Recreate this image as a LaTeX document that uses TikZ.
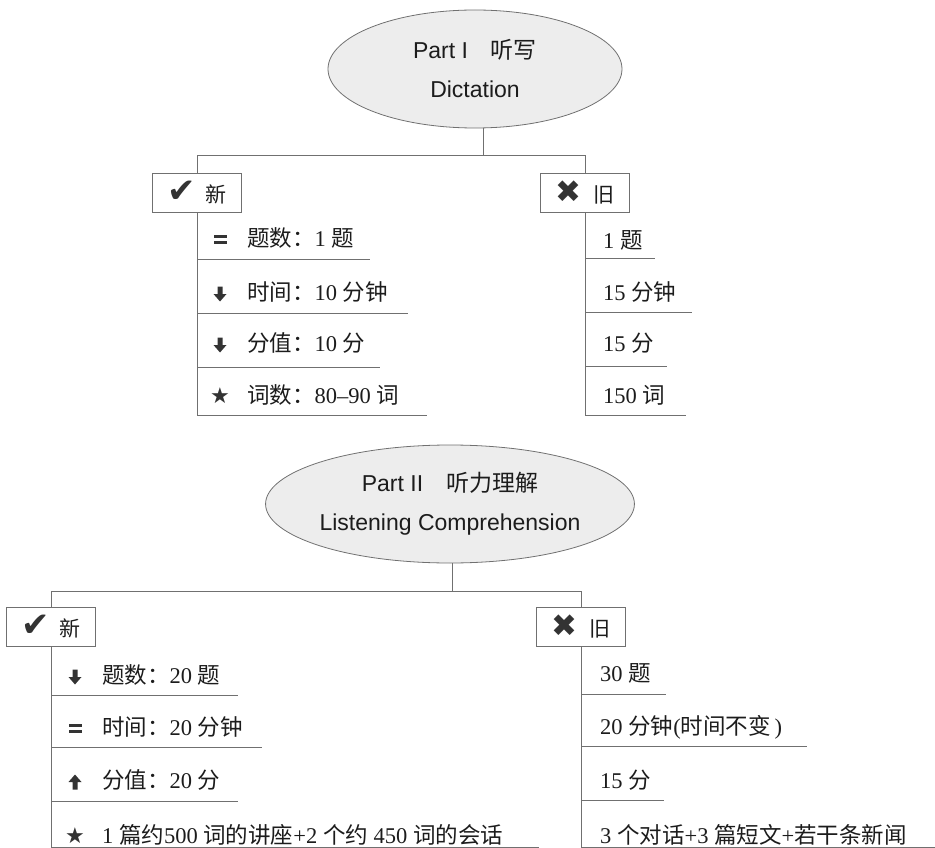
\documentclass[tikz,border=0pt]{standalone}
\usepackage{fontspec}
\setmainfont{Liberation Serif}
\newfontfamily\zhfont{Noto Sans CJK SC}
\newfontfamily\hsans{Liberation Sans}
\newfontfamily\symfont{DejaVu Sans}
\usetikzlibrary{shapes.geometric}
\newcommand{\zh}[1]{{\zhfont #1}}
\newcommand{\itf}{\fontsize{22.5}{27}\selectfont}
\definecolor{lnc}{HTML}{707070}
\definecolor{ellf}{HTML}{EDEDED}
\definecolor{txc}{HTML}{1C1C1C}
\definecolor{icc}{HTML}{333333}
\tikzset{
  ln/.style={draw=lnc, line width=0.8pt},
  ell/.style={ellipse, draw=lnc, fill=ellf, line width=0.8pt, inner sep=0pt, align=center, text=txc, font=\hsans\fontsize{23}{39}\selectfont},
  hbox/.style={rectangle, draw=lnc, fill=white, line width=0.8pt, minimum width=89pt, minimum height=39pt, inner sep=0pt, text=txc},
  itm/.style={anchor=west, inner sep=0pt, font=\itf, text=txc},
  ico/.style={inner sep=0pt, text=icc},
  starico/.style={ico, font=\symfont\fontsize{22}{22}\selectfont},
  darrow/.pic={\fill[icc] (-2.5,-7.5) -- (2.5,-7.5) -- (2.5,0) -- (6.5,0) -- (0,7.5) -- (-6.5,0) -- (-2.5,0) -- cycle;},
  uarrow/.pic={\fill[icc] (-2.5,7.5) -- (2.5,7.5) -- (2.5,0) -- (6.5,0) -- (0,-7.5) -- (-6.5,0) -- (-2.5,0) -- cycle;},
  eqsign/.pic={\fill[icc] (-6.5,-4) rectangle (6.5,-1); \fill[icc] (-6.5,1.5) rectangle (6.5,4.5);}
}
\newcommand{\chk}{{\symfont\fontsize{34}{34}\selectfont\color{icc}✔}}
\newcommand{\crs}{{\symfont\fontsize{31}{31}\selectfont\color{icc}✖}}
\newcommand{\bxt}[1]{{\zhfont\fontsize{21}{21}\selectfont #1}}
\begin{document}
\begin{tikzpicture}[x=1pt,y=-1pt]
\useasboundingbox (0,0) rectangle (935,848);

% ---------------- Part I ----------------
\node[ell, minimum width=294pt, minimum height=118pt] (p1) at (475,69) {Part I\quad\zh{听写}\\Dictation};
\coordinate (j1) at (483,155);
\node[hbox] (n1) at (197,192.5) {\chk\hspace{10pt}\bxt{新}};
\node[hbox] (o1) at (585,192.5) {\crs\hspace{13pt}\bxt{旧}};
\draw[ln] (j1 |- p1.south) -- (j1);
\draw[ln] (n1.north) -- (n1.north |- j1) -- (o1.north |- j1) -- (o1.north);
\coordinate (e1) at (197,415);
\coordinate (f1) at (585,415);
\draw[ln] (n1.south) -- (e1);
\draw[ln] (o1.south) -- (f1);

% left items
\pic at (220,239) {eqsign};
\node[itm] (a1) at (247,238) {\zh{题数：}1 \zh{题}};
\pic at (220,294) {darrow};
\node[itm] (a2) at (247,292) {\zh{时间：}10 \zh{分钟}};
\pic at (220,345) {darrow};
\node[itm] (a3) at (247,343) {\zh{分值：}10 \zh{分}};
\node[starico] (a4i) at (220,396) {★};
\node[itm] (a4) at (247,395) {\zh{词数：}80–90 \zh{词}};
\draw[ln] (197,259) -- (370,259);
\draw[ln] (197,313) -- (408,313);
\draw[ln] (197,367) -- (380,367);
\draw[ln] (e1) -- (427,415);

% right items
\node[itm] (b1) at (603,240) {1 \zh{题}};
\node[itm] (b2) at (603,292) {15 \zh{分钟}};
\node[itm] (b3) at (603,343) {15 \zh{分}};
\node[itm] (b4) at (603,395) {150 \zh{词}};
\draw[ln] (585,258) -- (655,258);
\draw[ln] (585,312) -- (692,312);
\draw[ln] (585,366) -- (667,366);
\draw[ln] (f1) -- (686,415);

% ---------------- Part II ----------------
\node[ell, minimum width=316pt, minimum height=118pt] (p2) at (450,504) {Part II\quad\zh{听力理解}\\Listening Comprehension};
\coordinate (j2) at (452,591);
\node[hbox] (n2) at (51,627) {\chk\hspace{10pt}\bxt{新}};
\node[hbox] (o2) at (581,626.5) {\crs\hspace{13pt}\bxt{旧}};
\draw[ln] (j2 |- p2.south) -- (j2);
\draw[ln] (n2.north) -- (n2.north |- j2) -- (o2.north |- j2) -- (o2.north);
\coordinate (e2) at (51,847);
\coordinate (f2) at (581,847);
\draw[ln] (n2.south) -- (e2);
\draw[ln] (o2.south) -- (f2);

% left items
\pic at (75,677) {darrow};
\node[itm] (c1) at (102,675) {\zh{题数：}20 \zh{题}};
\pic at (75,728) {eqsign};
\node[itm] (c2) at (102,727) {\zh{时间：}20 \zh{分钟}};
\pic at (75,782) {uarrow};
\node[itm] (c3) at (102,780) {\zh{分值：}20 \zh{分}};
\node[starico] (c4i) at (75,836) {★};
\node[itm] (c4) at (102,835) {1 \zh{篇约}500 \zh{词的讲座}+2 \zh{个约} 450 \zh{词的会话}};
\draw[ln] (51,695) -- (238,695);
\draw[ln] (51,747) -- (262,747);
\draw[ln] (51,801) -- (238,801);
\draw[ln] (e2) -- (539,847);

% right items
\node[itm] (d1) at (600,673) {30 \zh{题}};
\node[itm] (d2) at (600,727) {20 \zh{分钟}(\zh{时间不变}\,)};
\node[itm] (d3) at (600,780) {15 \zh{分}};
\node[itm] (d4) at (600,835) {3 \zh{个对话}+3 \zh{篇短文}+\zh{若干条新闻}};
\draw[ln] (581,694) -- (666,694);
\draw[ln] (581,746) -- (807,746);
\draw[ln] (581,800) -- (664,800);
\draw[ln] (f2) -- (935,847);
\end{tikzpicture}
\end{document}
